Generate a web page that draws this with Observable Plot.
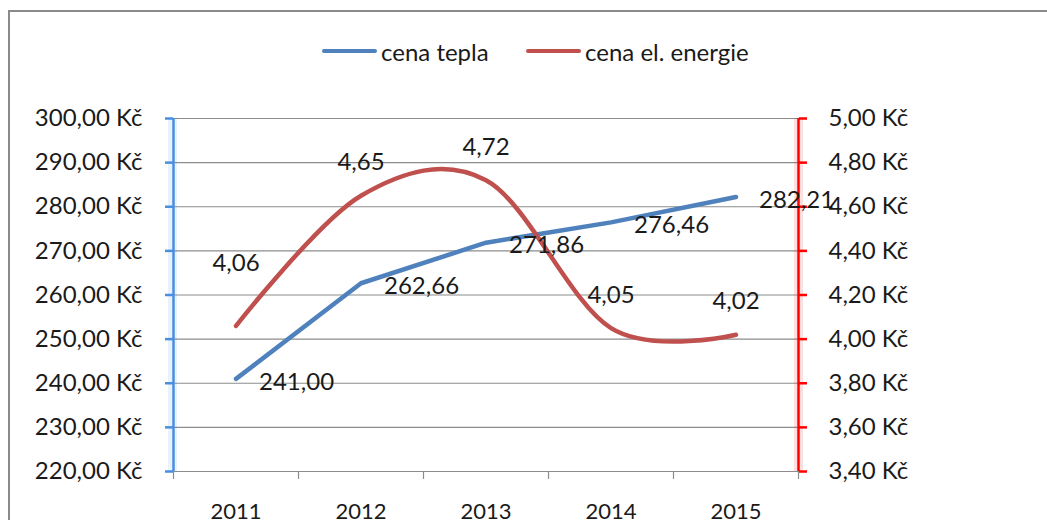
<!DOCTYPE html>
<html>
<head>
<meta charset="utf-8">
<script src="https://cdn.jsdelivr.net/npm/d3@7"></script>
<script src="https://cdn.jsdelivr.net/npm/@observablehq/plot@0.6"></script>
<style>
  html, body { margin: 0; padding: 0; background: #fff; overflow: hidden; }
  #wrap { position: relative; width: 1047px; height: 520px; font-family: Lato, "Open Sans", sans-serif; color: #1a1a1a; }
  #frame { position: absolute; left: 8px; top: 10px; width: 1100px; height: 600px; border-top: 2px solid #8a8a8a; border-left: 2px solid #8a8a8a; pointer-events: none; }
  #legend { position: absolute; left: 0; top: 34px; width: 1047px; height: 34px; }
  .item { position: absolute; top: 0; display: flex; align-items: center; height: 34px; font-size: 24px; }
  .sw { display: inline-block; width: 55px; height: 4px; border-radius: 2px; margin-right: 4px; }
  #chart { position: absolute; left: 0; top: 0; }
</style>
</head>
<body>
<div id="wrap">
  <div id="chart"></div>
  <div id="frame"></div>
  <div id="legend"></div>
</div>
<script>
// ---- data ----
const years = [2011, 2012, 2013, 2014, 2015];
const heatPrice = [241.00, 262.66, 271.86, 276.46, 282.21];   // cena tepla (left axis)
const elecPrice = [4.06, 4.65, 4.72, 4.05, 4.02];             // cena el. energie (right axis)
const leftTicks = [220, 230, 240, 250, 260, 270, 280, 290, 300];
const rightTicks = [3.40, 3.60, 3.80, 4.00, 4.20, 4.40, 4.60, 4.80, 5.00];
const seriesNames = ["cena tepla", "cena el. energie"];

const blue = "#4f81bd";
const red = "#c0504d";
const axisBlue = "#4a8ee0";
const axisRed = "#ff0000";
const gridGray = "#8c8c8c";
const textColor = "#1a1a1a";

// map right-axis values onto the left-axis scale
const lMin = leftTicks[0], lMax = leftTicks[leftTicks.length - 1];
const rMin = rightTicks[0], rMax = rightTicks[rightTicks.length - 1];
const toLeft = v => lMin + (v - rMin) * (lMax - lMin) / (rMax - rMin);
const fmt = v => v.toFixed(2).replace(".", ",");

const heat = years.map((y, i) => ({year: y, value: heatPrice[i], label: fmt(heatPrice[i])}));
const elec = years.map((y, i) => ({year: y, value: toLeft(elecPrice[i]), label: fmt(elecPrice[i]), i}));
const xLo = years[0] - 0.5, xHi = years[years.length - 1] + 0.5;
const bounds = d3.range(years.length + 1).map(k => xLo + k);
const rightTickPos = rightTicks.map(toLeft);

const chart = Plot.plot({
  width: 1047,
  height: 520,
  marginLeft: 173,
  marginRight: 249,
  marginTop: 118,
  marginBottom: 49,
  style: {fontFamily: "Lato, 'Open Sans', sans-serif", fontSize: "24px", color: textColor, background: "transparent"},
  x: {type: "linear", domain: [xLo, xHi], label: null},
  y: {domain: [lMin, lMax], label: null},
  marks: [
    // gridlines
    Plot.ruleY(leftTicks, {stroke: gridGray, strokeWidth: 1.2}),
    // category boundary ticks
    Plot.axisX({ticks: bounds, tickSize: 8, tickFormat: () => "", stroke: gridGray, strokeWidth: 1.2, label: null}),
    // year labels
    Plot.axisX({ticks: years, tickSize: 0, tickPadding: 32, tickFormat: d => String(d), fontSize: 22, fill: textColor, label: null}),
    // left axis
    Plot.ruleX([xLo], {y1: lMin, y2: lMax, stroke: axisBlue, strokeWidth: 9, strokeOpacity: 0.12, dx: -1}),
    Plot.ruleX([xLo], {y1: lMin, y2: lMax, stroke: axisBlue, strokeWidth: 2.5}),
    Plot.axisY({ticks: leftTicks, anchor: "left", tickSize: 8, tickPadding: 23, stroke: axisBlue, strokeWidth: 2.5,
      fill: textColor, tickFormat: d => fmt(d) + " Kč", label: null}),
    // right axis
    Plot.ruleX([xHi], {y1: lMin, y2: lMax, stroke: axisRed, strokeWidth: 9, strokeOpacity: 0.12}),
    Plot.ruleX([xHi], {y1: lMin, y2: lMax, stroke: axisRed, strokeWidth: 2.5}),
    Plot.axisY({ticks: rightTickPos, anchor: "right", tickSize: 8, tickPadding: 22, stroke: axisRed, strokeWidth: 2.5,
      fill: textColor, tickFormat: (d, i) => fmt(rightTicks[i]) + " Kč", label: null}),
    // lines
    Plot.line(heat, {x: "year", y: "value", stroke: blue, strokeWidth: 4.5, strokeLinecap: "round"}),
    Plot.line(elec, {x: "year", y: "value", stroke: red, strokeWidth: 4.5, strokeLinecap: "round", curve: "cardinal"}),
    // labels
    Plot.text(heat, {x: "year", y: "value", text: "label", textAnchor: "start", dx: 23, dy: 3, fontSize: 24, fill: textColor}),
    Plot.text(elec.filter(d => d.i === 0), {x: "year", y: "value", text: "label", dy: -63, fontSize: 24, fill: textColor}),
    Plot.text(elec.filter(d => d.i !== 0), {x: "year", y: "value", text: "label", dy: -33, fontSize: 24, fill: textColor})
  ]
});
document.getElementById("chart").appendChild(chart);

// legend
const legend = document.getElementById("legend");
const colors = [blue, red];
const lefts = [322, 526];
seriesNames.forEach((name, i) => {
  const it = document.createElement("div");
  it.className = "item";
  it.style.left = lefts[i] + "px";
  it.innerHTML = `<span class="sw" style="background:${colors[i]}"></span><span>${name}</span>`;
  legend.appendChild(it);
});
</script>
</body>
</html>
